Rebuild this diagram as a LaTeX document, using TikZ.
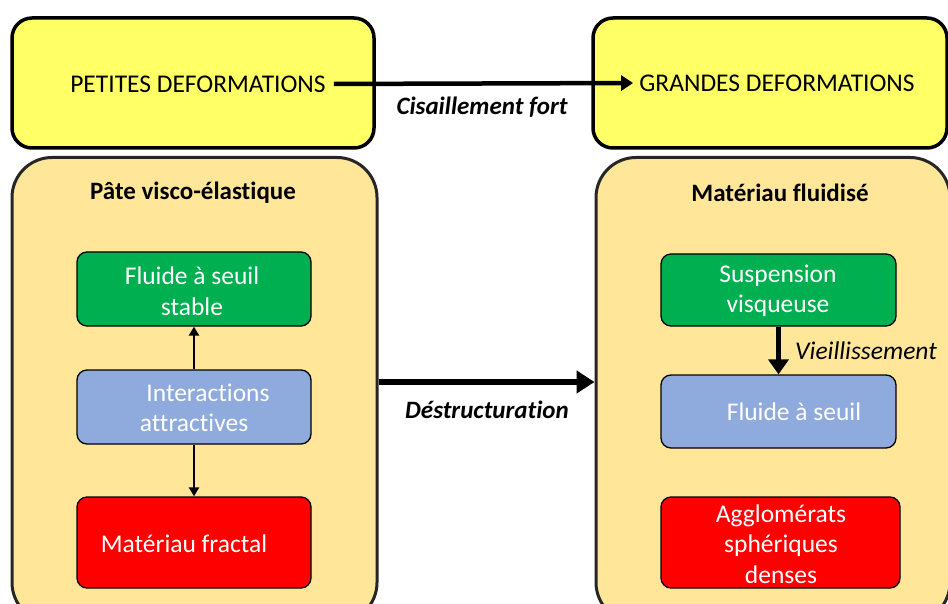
\documentclass[tikz,border=0pt]{standalone}
\usepackage{fontspec}
\setmainfont{Carlito}[Ligatures=NoCommon]
\usetikzlibrary{arrows.meta}
\definecolor{yel}{RGB}{255,255,102}
\definecolor{beige}{RGB}{255,230,153}
\definecolor{grn}{RGB}{0,176,80}
\definecolor{blu}{RGB}{143,170,220}
\definecolor{rd}{RGB}{255,0,0}
\definecolor{edge}{RGB}{38,38,38}
\tikzset{
  topbox/.style={draw=black, line width=3.5pt, fill=yel, rounded corners=20pt, inner sep=0pt},
  bigbox/.style={draw=edge, line width=3pt, fill=beige, rounded corners=40pt, inner sep=0pt},
  smallbox/.style={draw=black, line width=1.3pt, rounded corners=10pt, inner sep=0pt},
  wtxt/.style={text=white, font=\fontsize{25.5}{30.5}\selectfont, align=center, inner sep=0pt},
  toptxt/.style={font=\fontsize{25.5}{28}\selectfont, inner sep=0pt},
  title/.style={font=\bfseries\fontsize{25}{28}\selectfont, inner sep=0pt},
  lbl/.style={font=\bfseries\itshape\fontsize{25}{28}\selectfont, inner sep=0pt},
  thinarr/.style={line width=2.3pt, -{Triangle[length=9pt,width=10pt]}},
}
\begin{document}
\begin{tikzpicture}[x=1pt,y=-1pt]
\useasboundingbox (0,0) rectangle (948,604);
\clip (0,0) rectangle (948,604);
% top boxes
\node[topbox, minimum width=362pt, minimum height=130pt] (tl) at (193,83) {};
\node[topbox, minimum width=354pt, minimum height=130pt] (tr) at (770,83) {};
\node[toptxt] (petites) at (198,84) {PETITES DEFORMATIONS};
\node[toptxt] (grandes) at (777,83) {GRANDES DEFORMATIONS};
% big boxes
\node[bigbox, minimum width=365pt, minimum height=465pt] (bl) at (194.5,390) {};
\node[bigbox, minimum width=354pt, minimum height=465pt] (br) at (773,390) {};
\node[title] (t1) at (193,193) {Pâte visco-élastique};
\node[title] (t2) at (780,193) {Matériau fluidisé};
% left small boxes
\node[smallbox, fill=grn, minimum width=234pt, minimum height=74pt] (g1) at (194,289) {};
\node[smallbox, fill=blu, minimum width=234pt, minimum height=74pt] (b1) at (194,407) {};
\node[smallbox, fill=rd, minimum width=234pt, minimum height=91pt] (r1) at (194,542.5) {};
\node[wtxt] (g1t) at (192,291) {Fluide à seuil\\stable};
\node[wtxt] (b1t) at (194,408) {\hspace*{28pt}Interactions\\attractives};
\node[wtxt] (r1t) at (184,544) {Matériau fractal};
% right small boxes
\node[smallbox, fill=grn, minimum width=235pt, minimum height=72pt] (g2) at (778.5,290) {};
\node[smallbox, fill=blu, minimum width=235pt, minimum height=73pt] (b2) at (778.5,411.5) {};
\node[smallbox, fill=rd, minimum width=239pt, minimum height=91pt] (r2) at (780.5,542.5) {};
\node[wtxt] (g2t) at (778,291) {Suspension\\visqueuse};
\node[wtxt] (b2t) at (794,412) {Fluide à seuil};
\node[wtxt] (r2t) at (781,544) {Agglomérats\\sphériques\\denses};
% arrows
\draw[line width=4.5pt, -{Triangle[length=12pt,width=15pt]}, shorten <=8pt, shorten >=6pt] (petites.east) -- (grandes.west);
\draw[line width=6pt, -{Triangle[length=18pt,width=22pt]}] (bl.east |- 0,382) -- (br.west |- 0,382);
\draw[thinarr] (b1.north) -- (g1.south);
\draw[thinarr] (b1.south) -- (r1.north);
\draw[line width=5.5pt, -{Triangle[length=15pt,width=20pt]}] (g2.south) -- (b2.north);
% labels
\node[lbl] (cis) at (482,107) {Cisaillement fort};
\node[lbl] (des) at (487,410) {Déstructuration};
\node[font=\itshape\fontsize{25.5}{28}\selectfont, inner sep=0pt, anchor=west] (vie) at (795,351) {Vieillissement};
\end{tikzpicture}
\end{document}
